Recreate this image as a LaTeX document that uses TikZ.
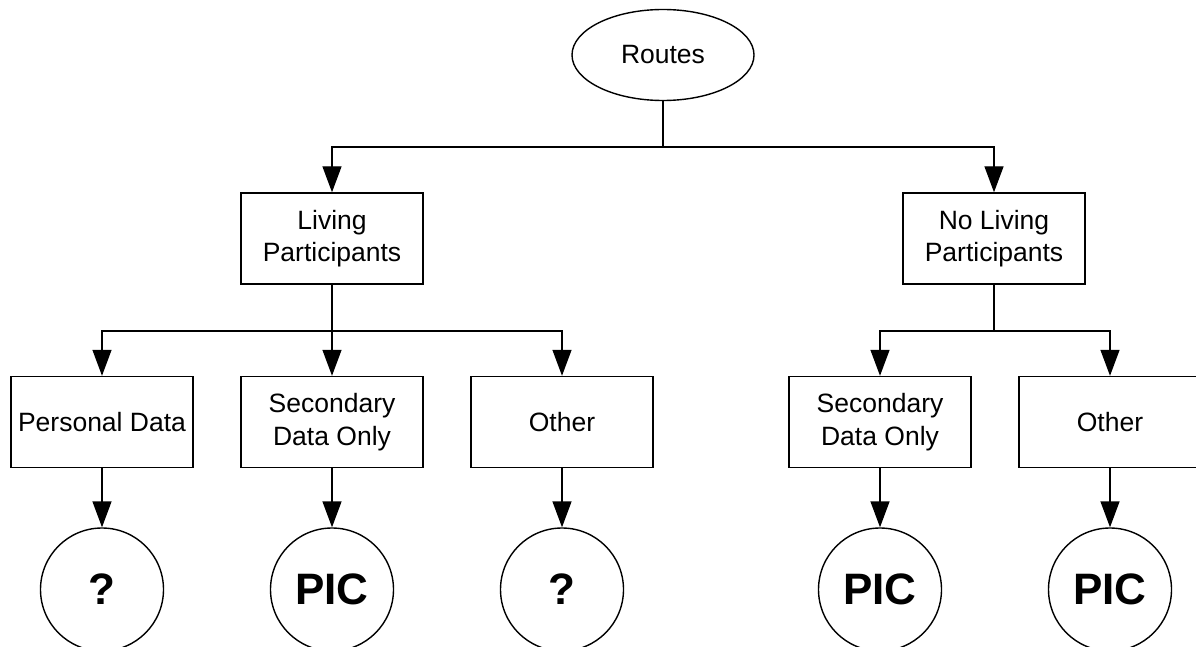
\documentclass[tikz,border=0pt]{standalone}
\usepackage{fontspec}
\setmainfont{Liberation Sans}
\usetikzlibrary{arrows.meta,shapes.geometric}
\begin{document}
\begin{tikzpicture}[x=1pt,y=-1pt,
  line width=1.4pt,
  arr/.style={-{Triangle[length=26pt,width=19pt]}},
  boxnode/.style={draw, rectangle, minimum width=182pt, minimum height=91pt, inner sep=0pt, align=center, font=\fontsize{26.5}{32.5}\selectfont},
  endnode/.style={draw, circle, minimum size=123pt, inner sep=0pt, font=\fontsize{44}{48}\selectfont\bfseries},
  topnode/.style={draw, ellipse, minimum width=182pt, minimum height=91pt, inner sep=0pt, font=\fontsize{26.5}{32.5}\selectfont}]
\useasboundingbox (0,0) rectangle (1196,647);
\clip (0,0) rectangle (1196,647);
\node[topnode] (routes) at (663,55) {Routes};
\node[boxnode] (lp) at (332,238.5) {Living\\Participants};
\node[boxnode] (nlp) at (994,238.5) {No Living\\Participants};
\node[boxnode] (pd) at (102,422) {Personal Data};
\node[boxnode] (sd1) at (332,422) {Secondary\\Data Only};
\node[boxnode] (ot1) at (562,422) {Other};
\node[boxnode] (sd2) at (880,422) {Secondary\\Data Only};
\node[boxnode] (ot2) at (1110,422) {Other};
\node[endnode] (c1) at (102,589.5) {?};
\node[endnode] (c2) at (332,589.5) {PIC};
\node[endnode] (c3) at (562,589.5) {?};
\node[endnode] (c4) at (880,589.5) {PIC};
\node[endnode] (c5) at (1110,589.5) {PIC};
\coordinate (j0) at (663,147);
\coordinate (j1) at (332,331);
\coordinate (j2) at (994,331);
\draw (routes.south) -- (j0);
\draw[arr] (j0) -| (lp.north);
\draw[arr] (j0) -| (nlp.north);
\draw[arr] (lp.south) -- (sd1.north);
\draw[arr] (j1) -| (pd.north);
\draw[arr] (j1) -| (ot1.north);
\draw (nlp.south) -- (j2);
\draw[arr] (j2) -| (sd2.north);
\draw[arr] (j2) -| (ot2.north);
\draw[arr] (pd.south) -- (c1.north);
\draw[arr] (sd1.south) -- (c2.north);
\draw[arr] (ot1.south) -- (c3.north);
\draw[arr] (sd2.south) -- (c4.north);
\draw[arr] (ot2.south) -- (c5.north);
\end{tikzpicture}
\end{document}
